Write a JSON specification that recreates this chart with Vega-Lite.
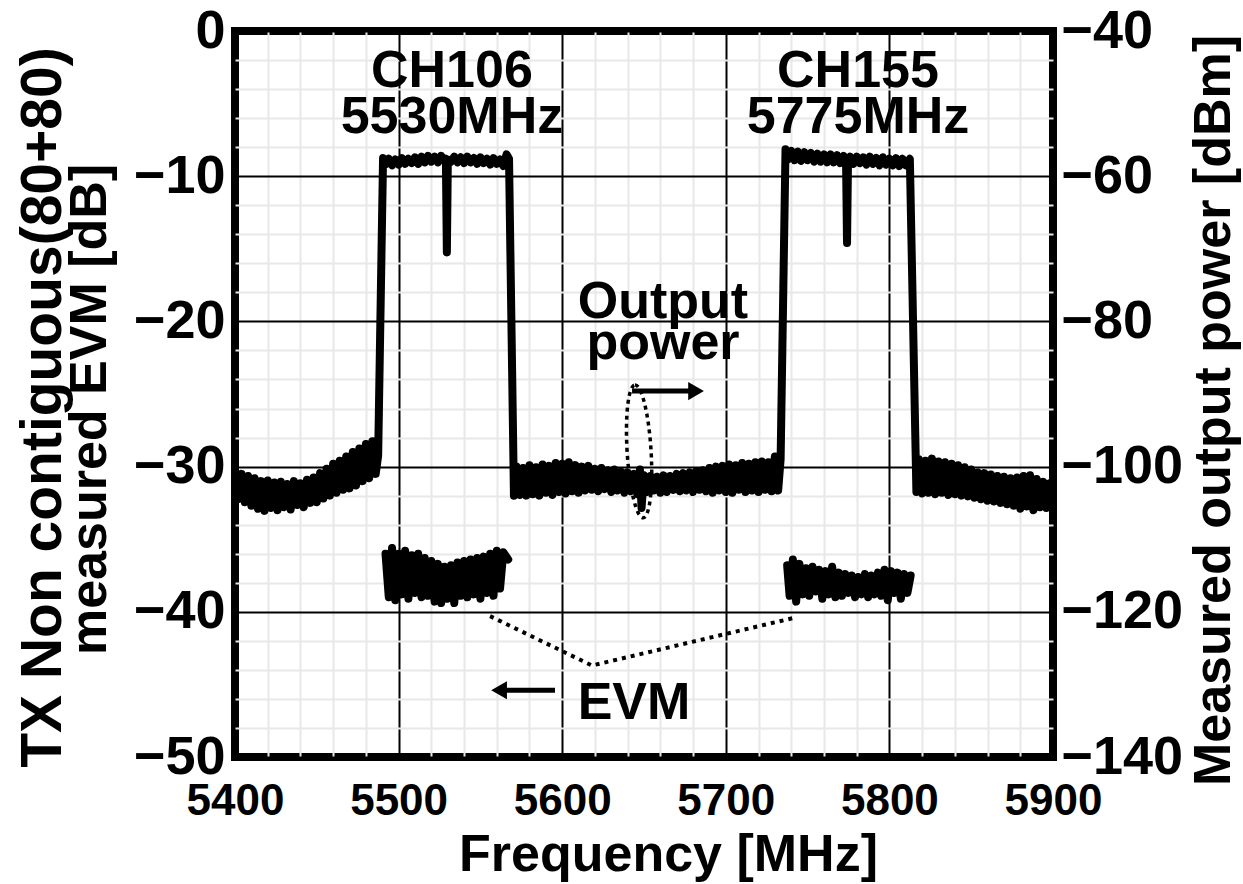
{
"$schema": "https://vega.github.io/schema/vega-lite/v6.json",
"width": 818, "height": 726,
"autosize": {"type": "none"},
"padding": {"left": 235, "top": 31, "right": 190, "bottom": 127},
"background": "white",
"config": {
 "view": {"stroke": "black", "strokeWidth": 8},
 "font": "Liberation Sans",
 "axis": {"labelFont": "Liberation Sans", "labelFontWeight": "bold", "labelFontSize": 44, "labelColor": "black", "titleFont": "Liberation Sans", "titleFontWeight": "bold", "titleFontSize": 52, "titleColor": "black", "ticks": false, "tickSize": 0, "domain": false, "labelFlush": false}
},
"datasets": {
 "power": [
  {"f":5400,"p":-100.6},{"f":5402,"p":-104.5},{"f":5404,"p":-101.0},{"f":5406,"p":-104.9},{"f":5408,"p":-101.3},{"f":5410,"p":-105.4},{"f":5412,"p":-101.6},{"f":5414,"p":-105.8},{"f":5416,"p":-102.0},{"f":5418,"p":-106.1},{"f":5420,"p":-101.9},{"f":5422,"p":-105.7},{"f":5424,"p":-102.2},{"f":5426,"p":-106.0},{"f":5428,"p":-102.1},{"f":5430,"p":-105.6},{"f":5432,"p":-102.4},{"f":5434,"p":-105.9},{"f":5436,"p":-102.0},{"f":5438,"p":-105.3},{"f":5440,"p":-102.3},{"f":5442,"p":-105.6},{"f":5444,"p":-101.8},{"f":5446,"p":-105.0},{"f":5448,"p":-101.5},{"f":5450,"p":-104.9},{"f":5452,"p":-100.9},{"f":5454,"p":-104.4},{"f":5456,"p":-100.3},{"f":5458,"p":-104.0},{"f":5460,"p":-99.6},{"f":5462,"p":-103.6},{"f":5464,"p":-99.2},{"f":5466,"p":-103.2},{"f":5468,"p":-98.6},{"f":5470,"p":-103.0},{"f":5472,"p":-98.0},{"f":5474,"p":-102.6},{"f":5476,"p":-97.5},{"f":5478,"p":-102.0},{"f":5480,"p":-96.9},{"f":5482,"p":-101.6},{"f":5484,"p":-96.5},{"f":5486,"p":-101.0},{"f":5487.5,"p":-98.5},
  {"f":5490.5,"p":-57.5},{"f":5492,"p":-58.4},{"f":5494,"p":-57.6},{"f":5496,"p":-58.5},{"f":5498,"p":-57.7},{"f":5500,"p":-58.4},{"f":5502,"p":-57.5},{"f":5504,"p":-58.3},{"f":5506,"p":-57.6},{"f":5508,"p":-58.2},{"f":5510,"p":-57.4},{"f":5512,"p":-58.3},{"f":5514,"p":-57.3},{"f":5516,"p":-58.1},{"f":5518,"p":-57.2},{"f":5520,"p":-58.0},{"f":5522,"p":-57.3},{"f":5524,"p":-58.1},{"f":5526,"p":-57.2},{"f":5528,"p":-57.9},{"f":5528.9,"p":-57.6},{"f":5529.5,"p":-70.5},{"f":5530.1,"p":-57.7},{"f":5532,"p":-58.0},{"f":5534,"p":-57.3},{"f":5536,"p":-58.1},{"f":5538,"p":-57.4},{"f":5540,"p":-58.2},{"f":5542,"p":-57.3},{"f":5544,"p":-58.1},{"f":5546,"p":-57.5},{"f":5548,"p":-58.3},{"f":5550,"p":-57.4},{"f":5552,"p":-58.2},{"f":5554,"p":-57.6},{"f":5556,"p":-58.4},{"f":5558,"p":-57.5},{"f":5560,"p":-58.3},{"f":5562,"p":-57.7},{"f":5564,"p":-58.6},{"f":5566,"p":-57.0},{"f":5567.5,"p":-57.6},
  {"f":5570.5,"p":-104.0},{"f":5572,"p":-100.0},{"f":5574,"p":-103.9},{"f":5576,"p":-100.2},{"f":5578,"p":-104.0},{"f":5580,"p":-99.8},{"f":5582,"p":-103.8},{"f":5584,"p":-100.1},{"f":5586,"p":-104.0},{"f":5588,"p":-99.7},{"f":5590,"p":-103.6},{"f":5592,"p":-99.9},{"f":5594,"p":-103.9},{"f":5596,"p":-99.5},{"f":5598,"p":-103.5},{"f":5600,"p":-99.6},{"f":5602,"p":-103.7},{"f":5604,"p":-99.4},{"f":5606,"p":-103.4},{"f":5608,"p":-99.8},{"f":5610,"p":-103.6},{"f":5612,"p":-100.0},{"f":5614,"p":-103.3},{"f":5616,"p":-99.9},{"f":5618,"p":-103.2},{"f":5620,"p":-100.3},{"f":5622,"p":-103.4},{"f":5624,"p":-100.2},{"f":5626,"p":-103.1},{"f":5628,"p":-100.5},{"f":5630,"p":-103.5},{"f":5632,"p":-100.4},{"f":5634,"p":-103.3},{"f":5636,"p":-100.7},{"f":5638,"p":-103.6},{"f":5640,"p":-100.8},{"f":5642,"p":-103.4},{"f":5644,"p":-101.0},{"f":5646,"p":-103.8},{"f":5647.5,"p":-100.4},{"f":5648.5,"p":-105.7},{"f":5650,"p":-101.2},{"f":5652,"p":-103.5},{"f":5654,"p":-101.3},{"f":5656,"p":-103.3},{"f":5658,"p":-101.4},{"f":5660,"p":-103.6},{"f":5662,"p":-101.2},{"f":5664,"p":-103.5},{"f":5666,"p":-101.3},{"f":5668,"p":-103.2},{"f":5670,"p":-101.0},{"f":5672,"p":-103.4},{"f":5674,"p":-100.9},{"f":5676,"p":-103.3},{"f":5678,"p":-100.8},{"f":5680,"p":-103.5},{"f":5682,"p":-100.6},{"f":5684,"p":-103.2},{"f":5686,"p":-100.5},{"f":5688,"p":-103.4},{"f":5690,"p":-100.2},{"f":5692,"p":-103.6},{"f":5694,"p":-100.0},{"f":5696,"p":-103.3},{"f":5698,"p":-99.9},{"f":5700,"p":-103.5},{"f":5702,"p":-99.7},{"f":5704,"p":-103.6},{"f":5706,"p":-99.8},{"f":5708,"p":-103.2},{"f":5710,"p":-99.5},{"f":5712,"p":-103.5},{"f":5714,"p":-99.6},{"f":5716,"p":-103.3},{"f":5718,"p":-99.4},{"f":5720,"p":-103.5},{"f":5722,"p":-99.3},{"f":5724,"p":-103.2},{"f":5726,"p":-99.4},{"f":5728,"p":-103.4},{"f":5730,"p":-98.6},{"f":5732,"p":-103.3},{"f":5733.5,"p":-99.0},
  {"f":5736.5,"p":-56.3},{"f":5738,"p":-57.7},{"f":5740,"p":-56.5},{"f":5742,"p":-57.8},{"f":5744,"p":-56.6},{"f":5746,"p":-57.9},{"f":5748,"p":-56.7},{"f":5750,"p":-57.8},{"f":5752,"p":-56.8},{"f":5754,"p":-58.0},{"f":5756,"p":-56.9},{"f":5758,"p":-58.0},{"f":5760,"p":-57.0},{"f":5762,"p":-58.1},{"f":5764,"p":-57.0},{"f":5766,"p":-58.1},{"f":5768,"p":-57.1},{"f":5770,"p":-58.2},{"f":5772,"p":-57.2},{"f":5773.5,"p":-57.8},{"f":5774.1,"p":-69.2},{"f":5774.7,"p":-57.8},{"f":5776,"p":-57.3},{"f":5778,"p":-58.3},{"f":5780,"p":-57.3},{"f":5782,"p":-58.2},{"f":5784,"p":-57.4},{"f":5786,"p":-58.4},{"f":5788,"p":-57.3},{"f":5790,"p":-58.3},{"f":5792,"p":-57.5},{"f":5794,"p":-58.5},{"f":5796,"p":-57.4},{"f":5798,"p":-58.4},{"f":5800,"p":-57.6},{"f":5802,"p":-58.5},{"f":5804,"p":-57.5},{"f":5806,"p":-58.6},{"f":5808,"p":-57.6},{"f":5810,"p":-58.5},{"f":5812.5,"p":-57.6},
  {"f":5816.5,"p":-103.5},{"f":5818,"p":-99.0},{"f":5820,"p":-103.7},{"f":5822,"p":-99.2},{"f":5824,"p":-103.6},{"f":5826,"p":-98.9},{"f":5828,"p":-103.8},{"f":5830,"p":-99.3},{"f":5832,"p":-103.6},{"f":5834,"p":-99.4},{"f":5836,"p":-103.9},{"f":5838,"p":-99.6},{"f":5840,"p":-103.8},{"f":5842,"p":-99.8},{"f":5844,"p":-104.0},{"f":5846,"p":-100.1},{"f":5848,"p":-104.1},{"f":5850,"p":-100.4},{"f":5852,"p":-104.3},{"f":5854,"p":-100.8},{"f":5856,"p":-104.5},{"f":5858,"p":-100.9},{"f":5860,"p":-104.7},{"f":5862,"p":-101.1},{"f":5864,"p":-104.8},{"f":5866,"p":-101.3},{"f":5868,"p":-105.0},{"f":5870,"p":-101.4},{"f":5872,"p":-105.2},{"f":5874,"p":-101.6},{"f":5876,"p":-105.4},{"f":5878,"p":-101.5},{"f":5880,"p":-105.8},{"f":5882,"p":-101.3},{"f":5884,"p":-105.5},{"f":5886,"p":-101.2},{"f":5888,"p":-106.0},{"f":5890,"p":-101.7},{"f":5892,"p":-105.6},{"f":5894,"p":-102.1},{"f":5896,"p":-105.7},{"f":5898,"p":-102.3},{"f":5900,"p":-105.4}
 ],
 "evm": [
  {"f":5492,"y":-36.0,"b":1},{"f":5494,"y":-39.0,"b":1},{"f":5496,"y":-35.6,"b":1},{"f":5498,"y":-39.2,"b":1},{"f":5500,"y":-36.0,"b":1},{"f":5502,"y":-38.8,"b":1},{"f":5504,"y":-35.8,"b":1},{"f":5506,"y":-39.1,"b":1},{"f":5508,"y":-36.1,"b":1},{"f":5510,"y":-38.7,"b":1},{"f":5512,"y":-36.0,"b":1},{"f":5514,"y":-39.0,"b":1},{"f":5516,"y":-36.3,"b":1},{"f":5518,"y":-38.9,"b":1},{"f":5520,"y":-36.5,"b":1},{"f":5522,"y":-39.3,"b":1},{"f":5524,"y":-36.7,"b":1},{"f":5526,"y":-39.4,"b":1},{"f":5528,"y":-36.9,"b":1},{"f":5530,"y":-39.1,"b":1},{"f":5532,"y":-36.8,"b":1},{"f":5534,"y":-39.4,"b":1},{"f":5536,"y":-36.6,"b":1},{"f":5538,"y":-38.9,"b":1},{"f":5540,"y":-36.5,"b":1},{"f":5542,"y":-39.0,"b":1},{"f":5544,"y":-36.4,"b":1},{"f":5546,"y":-38.8,"b":1},{"f":5548,"y":-36.3,"b":1},{"f":5550,"y":-39.1,"b":1},{"f":5552,"y":-36.2,"b":1},{"f":5554,"y":-38.7,"b":1},{"f":5556,"y":-36.0,"b":1},{"f":5558,"y":-38.9,"b":1},{"f":5560,"y":-35.8,"b":1},{"f":5562,"y":-38.4,"b":1},{"f":5564,"y":-35.9,"b":1},{"f":5567,"y":-36.4,"b":1},
  {"f":5737.5,"y":-36.8,"b":2},{"f":5739,"y":-38.9,"b":2},{"f":5741,"y":-36.4,"b":2},{"f":5743,"y":-39.3,"b":2},{"f":5745,"y":-36.7,"b":2},{"f":5747,"y":-38.8,"b":2},{"f":5749,"y":-37.0,"b":2},{"f":5751,"y":-38.9,"b":2},{"f":5753,"y":-36.9,"b":2},{"f":5755,"y":-38.6,"b":2},{"f":5757,"y":-37.1,"b":2},{"f":5759,"y":-39.1,"b":2},{"f":5761,"y":-37.2,"b":2},{"f":5763,"y":-38.8,"b":2},{"f":5765,"y":-36.9,"b":2},{"f":5767,"y":-39.0,"b":2},{"f":5769,"y":-37.3,"b":2},{"f":5771,"y":-38.9,"b":2},{"f":5773,"y":-37.4,"b":2},{"f":5775,"y":-38.7,"b":2},{"f":5777,"y":-37.5,"b":2},{"f":5779,"y":-39.0,"b":2},{"f":5781,"y":-37.6,"b":2},{"f":5783,"y":-38.8,"b":2},{"f":5785,"y":-37.4,"b":2},{"f":5787,"y":-39.0,"b":2},{"f":5789,"y":-37.5,"b":2},{"f":5791,"y":-38.8,"b":2},{"f":5793,"y":-37.3,"b":2},{"f":5795,"y":-38.9,"b":2},{"f":5797,"y":-37.1,"b":2},{"f":5799,"y":-39.2,"b":2},{"f":5801,"y":-37.2,"b":2},{"f":5803,"y":-38.7,"b":2},{"f":5805,"y":-37.3,"b":2},{"f":5807,"y":-39.1,"b":2},{"f":5809,"y":-37.4,"b":2},{"f":5811,"y":-38.7,"b":2},{"f":5813,"y":-37.5,"b":2}
 ],
 "labels": [
  {"f":5532.6,"y":-3.85,"t":"CH106"},{"f":5532.6,"y":-7.0,"t":"5530MHz"},
  {"f":5780.8,"y":-3.85,"t":"CH155"},{"f":5780.8,"y":-7.0,"t":"5775MHz"},
  {"f":5661.6,"y":-19.74,"t":"Output"},{"f":5661.6,"y":-22.6,"t":"power"},
  {"f":5643.9,"y":-47.39,"t":"EVM"}
 ],
 "leader": [
  {"f":5555.9,"y":-40.3},{"f":5618.2,"y":-43.7},{"f":5742.3,"y":-40.4}
 ],
 "arrows": [
  {"f":5642.7,"f2":5681.8,"y":-24.8},{"f":5561.4,"f2":5595.6,"y":-45.4}
 ]
},
"layer": [
 {"layer": [
  {"data": {"name": "evm"},
   "mark": {"type": "line", "color": "black", "strokeWidth": 8, "strokeJoin": "round", "strokeCap": "round"},
   "encoding": {
    "x": {"field": "f", "type": "quantitative", "scale": {"domain": [5400, 5900], "nice": false, "zero": false},
      "axis": {"orient": "bottom", "title": "Frequency [MHz]", "values": [5400,5420,5440,5460,5480,5500,5520,5540,5560,5580,5600,5620,5640,5660,5680,5700,5720,5740,5760,5780,5800,5820,5840,5860,5880,5900],
        "tickCount": 60, "format": "d", "labelExpr": "datum.value % 100 === 0 ? datum.label : ''", "labelOverlap": false, "labelFlush": false, "labelPadding": 22, "titlePadding": 6, "titleX": 433,
        "grid": true, "gridColor": {"condition": {"test": "datum.value % 100 === 0", "value": "black"}, "value": "#e8e8e8"}, "gridWidth": 2, "gridOpacity": 1}},
    "y": {"field": "y", "type": "quantitative", "scale": {"domain": [-50, 0], "nice": false, "zero": false},
      "axis": {"orient": "left", "title": "measured EVM [dB]", "values": [-50,-48,-46,-44,-42,-40,-38,-36,-34,-32,-30,-28,-26,-24,-22,-20,-18,-16,-14,-12,-10,-8,-6,-4,-2,0],
        "tickCount": 60, "format": "d", "labelExpr": "datum.value % 10 === 0 ? datum.label : ''", "labelOverlap": false, "labelFlush": false, "labelFontSize": 54, "labelPadding": 10, "titlePadding": 17, "titleY": 378,
        "grid": true, "gridColor": {"condition": {"test": "datum.value % 10 === 0", "value": "black"}, "value": "#e8e8e8"}, "gridWidth": 2, "gridOpacity": 1}},
    "detail": {"field": "b", "type": "nominal"}
   }},
  {"data": {"name": "leader"},
   "mark": {"type": "line", "color": "black", "strokeWidth": 4, "strokeDash": [4, 5]},
   "encoding": {"x": {"field": "f", "type": "quantitative"}, "y": {"field": "y", "type": "quantitative"}}},
  {"data": {"name": "arrows"},
   "mark": {"type": "rule", "color": "black", "strokeWidth": 5},
   "encoding": {"x": {"field": "f", "type": "quantitative"}, "x2": {"field": "f2"}, "y": {"field": "y", "type": "quantitative"}}},
  {"data": {"values": [{"f": 5681.8, "y": -24.8}]},
   "mark": {"type": "point", "shape": "triangle-right", "filled": true, "color": "black", "opacity": 1, "size": 330},
   "encoding": {"x": {"field": "f", "type": "quantitative"}, "y": {"field": "y", "type": "quantitative"}}},
  {"data": {"values": [{"f": 5561.4, "y": -45.4}]},
   "mark": {"type": "point", "shape": "triangle-left", "filled": true, "color": "black", "opacity": 1, "size": 330},
   "encoding": {"x": {"field": "f", "type": "quantitative"}, "y": {"field": "y", "type": "quantitative"}}},
  {"data": {"values": [{"f": 5647, "y": -28.95}]},
   "mark": {"type": "point", "shape": "M 0 -1 A 0.18 1 0 1 1 0 1 A 0.18 1 0 1 1 0 -1 Z", "filled": false, "stroke": "black", "strokeWidth": 3.5, "strokeDash": [4, 4], "opacity": 1, "size": 17700, "angle": -3.5},
   "encoding": {"x": {"field": "f", "type": "quantitative"}, "y": {"field": "y", "type": "quantitative"}}}
 ]},
 {"data": {"name": "labels"},
  "mark": {"type": "text", "font": "Liberation Sans", "fontWeight": "bold", "fontSize": 52, "align": "center", "baseline": "alphabetic", "color": "black"},
  "encoding": {
   "x": {"field": "f", "type": "quantitative", "scale": {"domain": [5400, 5900], "nice": false, "zero": false}},
   "y": {"field": "y", "type": "quantitative", "scale": {"domain": [-50, 0], "nice": false, "zero": false},
     "axis": {"orient": "left", "title": "TX Non contiguous(80+80)", "labels": false, "grid": false, "domain": false, "ticks": false, "titleFontSize": 57, "titleX": -175, "titleY": 376, "titleAngle": 270, "titleBaseline": "alphabetic", "titleAlign": "center"}},
   "text": {"field": "t"}}},
 {"data": {"name": "power"},
  "mark": {"type": "line", "color": "black", "strokeWidth": 8, "strokeJoin": "round", "strokeCap": "round"},
  "encoding": {
   "x": {"field": "f", "type": "quantitative", "scale": {"domain": [5400, 5900], "nice": false, "zero": false}},
   "y": {"field": "p", "type": "quantitative", "scale": {"domain": [-140, -40], "nice": false, "zero": false},
     "axis": {"orient": "right", "title": "Measured output power [dBm]", "values": [-140,-120,-100,-80,-60,-40], "tickCount": 20, "format": "d", "labelFontSize": 54, "labelPadding": 8, "titlePadding": 6, "titleFontSize": 52, "titleAngle": 270, "titleBaseline": "top", "titleY": 379, "grid": false}}
  }}
],
"resolve": {"scale": {"y": "independent"}, "axis": {"y": "independent"}}
}
